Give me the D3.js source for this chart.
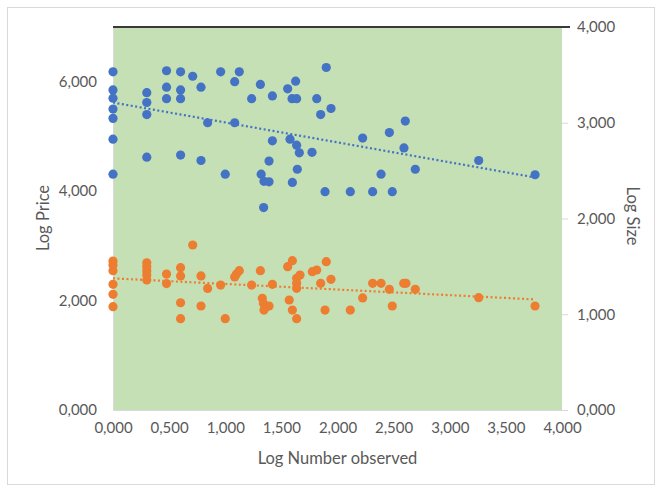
<!DOCTYPE html>
<html><head><meta charset="utf-8">
<script src="https://cdn.jsdelivr.net/npm/d3@7"></script>
<style>body{margin:0;background:#fff}svg{display:block}text{font-family:Lato,"Open Sans",sans-serif;fill:#595959}</style>
</head><body>
<script>
// Log Price series (blue, left axis)
const priceX = [0,0,0,0,0,0,0, 0.301,0.301,0.301,0.301, 0.477,0.477,0.477, 0.602,0.602,0.602,0.602,
  0.71, 0.784,0.784, 0.843, 0.959, 1.0, 1.084,1.084, 1.125, 1.235, 1.313, 1.32, 1.345,1.39, 1.342, 1.39,
  1.42,1.42, 1.556, 1.577, 1.598, 1.595,1.636, 1.627, 1.636, 1.66, 1.642, 1.773, 1.815, 1.85, 1.889, 1.90,
  1.942, 2.114, 2.224, 2.313, 2.388, 2.462, 2.488, 2.592, 2.604, 2.693, 3.258, 3.76];
const priceY = [6.18,5.85,5.70,5.50,5.33,4.95,4.31, 5.80,5.62,5.40,4.62, 6.20,5.90,5.69, 6.18,5.85,5.69,4.66,
  6.10, 5.90,4.56, 5.25, 6.18, 4.31, 6.00,5.25, 6.18, 5.69, 5.95, 4.31, 4.18,4.17, 3.70, 4.55,
  5.74,4.92, 5.87, 4.95, 4.16, 5.69,5.69, 6.01, 4.84, 4.70, 4.40, 4.71, 5.69, 5.40, 3.99, 6.26,
  5.51, 3.99, 4.97, 3.99, 4.31, 5.07, 3.99, 4.79, 5.28, 4.40, 4.56, 4.30];
// Log Size series (orange, right axis)
const sizeX = [0,0,0,0,0,0, 0.301,0.301,0.301,0.301,0.301, 0.477,0.477, 0.602,0.602,0.602,0.602,
  0.71, 0.784,0.784, 0.843, 0.959, 1.0, 1.084, 1.10, 1.125, 1.235, 1.313, 1.33,1.34,1.36,1.39,1.345,
  1.42, 1.556, 1.598, 1.57, 1.598, 1.636, 1.636,1.636,1.636, 1.666, 1.776, 1.815, 1.85, 1.889, 1.90,
  1.942, 2.114, 2.224, 2.313, 2.388, 2.462, 2.488, 2.59,2.61, 2.693, 3.258, 3.76];
const sizeY = [1.556,1.514,1.455,1.313,1.208,1.079, 1.538,1.497,1.455,1.41,1.358, 1.42,1.32, 1.486,1.40,1.12,0.954,
  1.723, 1.40,1.086, 1.27, 1.305, 0.954, 1.39, 1.42, 1.455, 1.305, 1.455, 1.167,1.114,1.072,1.086,1.044,
  1.313, 1.497, 1.56, 1.149, 1.044, 0.954, 1.375,1.323,1.271, 1.41, 1.445, 1.462, 1.323, 1.044, 1.549,
  1.365, 1.044, 1.17, 1.323, 1.323, 1.26, 1.086, 1.323,1.323, 1.26, 1.173, 1.086];
// Linear trendlines (x, value)
const priceTrend = [[0,5.62],[3.76,4.25]];
const sizeTrend = [[0,1.375],[3.76,1.155]];
const xTicks = [0,0.5,1,1.5,2,2.5,3,3.5,4];
const leftTicks = [0,2,4,6];
const rightTicks = [0,1,2,3,4];
const xTitle = "Log Number observed", leftTitle = "Log Price", rightTitle = "Log Size";

const W = 662, H = 491;
const m = {l:113, r:562, t:27, b:410};
const fmt = d3.formatLocale({decimal:",",thousands:".",grouping:[3],currency:["",""]}).format(".3f");
const x = d3.scaleLinear().domain([0,4]).range([m.l,m.r]);
const yL = d3.scaleLinear().domain([0,7]).range([m.b,m.t]);
const yR = d3.scaleLinear().domain([0,4]).range([m.b,m.t]);

const svg = d3.select("body").append("svg").attr("width",W).attr("height",H);
svg.append("rect").attr("x",7.5).attr("y",7.5).attr("width",647).attr("height",477)
  .attr("fill","#fff").attr("stroke","#d9d9d9");
svg.append("rect").attr("x",m.l).attr("y",m.t).attr("width",m.r-m.l).attr("height",m.b-m.t).attr("fill","#c5e0b4");

// axes
const fs = "15px", tfs = "16.5px";
const gx = svg.append("g").attr("transform",`translate(0,${m.b})`)
  .call(d3.axisBottom(x).tickValues(xTicks).tickFormat(fmt).tickSize(0).tickPadding(12));
const gl = svg.append("g").attr("transform",`translate(${m.l},0)`)
  .call(d3.axisLeft(yL).tickValues(leftTicks).tickFormat(fmt).tickSize(0).tickPadding(16));
const gr = svg.append("g").attr("transform",`translate(${m.r},0)`)
  .call(d3.axisRight(yR).tickValues(rightTicks).tickFormat(fmt).tickSize(6).tickPadding(9));
[gx,gl,gr].forEach(g=>{
  g.select(".domain").attr("stroke","#d9d9d9");
  g.selectAll(".tick line").attr("stroke","#d9d9d9");
  g.selectAll("text").attr("fill","#595959").style("font-size",fs).style("font-family","Lato");
});
gr.select(".domain").remove();
gr.selectAll(".tick line").filter(d=>d===4).remove();
svg.append("line").attr("x1",m.l).attr("x2",m.r+8).attr("y1",m.t).attr("y2",m.t)
  .attr("stroke","#3a3a3a").attr("stroke-width",2);

// titles
svg.append("text").attr("x",(m.l+m.r)/2).attr("y",464).attr("text-anchor","middle").style("font-size",tfs).text(xTitle);
svg.append("text").attr("transform","translate(49,218) rotate(-90)").attr("text-anchor","middle").style("font-size",tfs).text(leftTitle);
svg.append("text").attr("transform","translate(627,216) rotate(90)").attr("text-anchor","middle").style("font-size",tfs).text(rightTitle);

// trendlines
const lineL = d3.line().x(d=>x(d[0])).y(d=>yL(d[1]));
const lineR = d3.line().x(d=>x(d[0])).y(d=>yR(d[1]));

// points
svg.append("g").selectAll("circle").data(priceX.map((v,i)=>[v,priceY[i]])).join("circle")
  .attr("cx",d=>x(d[0])).attr("cy",d=>yL(d[1])).attr("r",4.6).attr("fill","#4472c4");
svg.append("g").selectAll("circle").data(sizeX.map((v,i)=>[v,sizeY[i]])).join("circle")
  .attr("cx",d=>x(d[0])).attr("cy",d=>yR(d[1])).attr("r",4.6).attr("fill","#ed7d31");
svg.append("path").attr("d",lineL(priceTrend)).attr("fill","none").attr("stroke","#4472c4")
  .attr("stroke-width",2.2).attr("stroke-dasharray","2,2.5");
svg.append("path").attr("d",lineR(sizeTrend)).attr("fill","none").attr("stroke","#ed7d31")
  .attr("stroke-width",2.2).attr("stroke-dasharray","2,2.5");
</script>
</body></html>
